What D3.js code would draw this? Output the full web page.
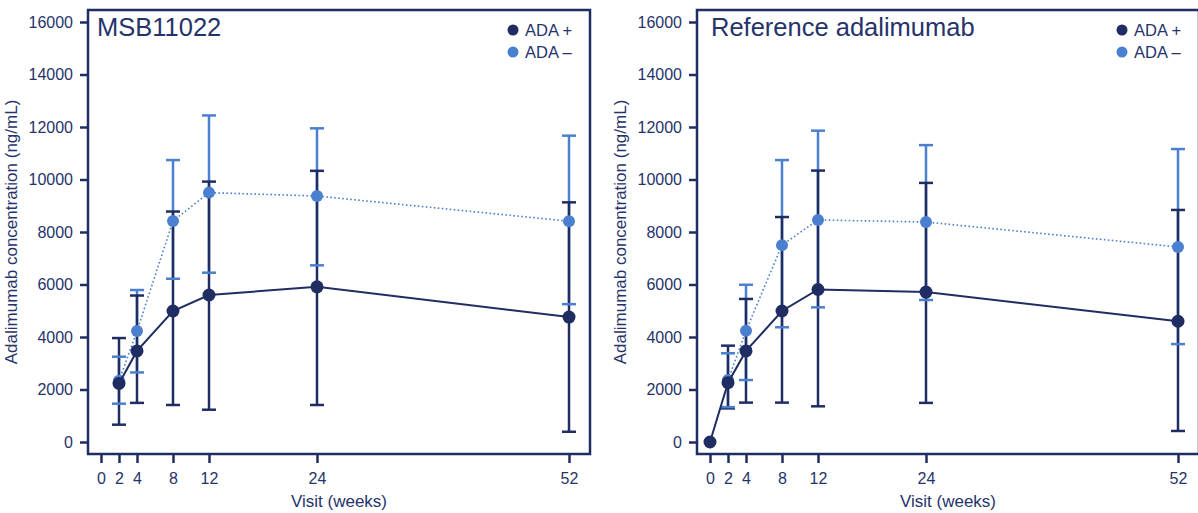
<html>
<head>
  <script src="https://d3js.org/d3.v7.min.js"></script>
  <style>
    body { margin: 0; background: white; }
    text { font-family: "Liberation Sans", Arial, sans-serif; fill: #26336a; }
  </style>
</head>
<body>
  <svg id="chart" width="1198" height="513"></svg>
  <script>
    // weeks on the x axis
    const xTicks = [0, 2, 4, 8, 12, 24, 52];
    const yTicks = [0, 2000, 4000, 6000, 8000, 10000, 12000, 14000, 16000];

    // MSB11022 panel
    const msbWeeks = [2, 4, 8, 12, 24, 52];
    const msbPosMean = [2230, 3470, 4990, 5600, 5910, 4760];
    const msbPosLow = [660, 1490, 1410, 1230, 1410, 390];
    const msbPosHigh = [3960, 5580, 8780, 9920, 10330, 9130];
    const msbNegMean = [2330, 4230, 8420, 9500, 9370, 8410];
    const msbNegLow = [1460, 2650, 6220, 6450, 6730, 5250];
    const msbNegHigh = [3250, 5790, 10740, 12440, 11950, 11670];

    // Reference adalimumab panel
    const refPosWeeks = [0, 2, 4, 8, 12, 24, 52];
    const refPosMean = [0, 2260, 3470, 4990, 5810, 5710, 4600];
    const refPosLow = [null, 1280, 1500, 1500, 1360, 1490, 420];
    const refPosHigh = [null, 3670, 5450, 8570, 10340, 9870, 8840];
    const refNegWeeks = [2, 4, 8, 12, 24, 52];
    const refNegMean = [2360, 4240, 7500, 8460, 8380, 7430];
    const refNegLow = [1330, 2360, 4370, 5130, 5410, 3730];
    const refNegHigh = [3380, 5990, 10740, 11860, 11310, 11160];

    const dark = "#1f2d63";
    const light = "#4a80cf";

    const svg = d3.select("#chart");
    const w = 502, h = 444;

    function series(weeks, mean, low, high) {
      return weeks.map((wk, i) => ({ week: wk, mean: mean[i], low: low[i], high: high[i] }));
    }

    function drawPanel(left, title, titleX, pos, neg) {
      const g = svg.append("g").attr("transform", `translate(${left},10)`);
      const x = d3.scaleLinear().domain([-13 / 9, 489 / 9]).range([0, w]);
      const y = d3.scaleLinear().domain([-457, 16457]).range([h, 0]);

      // axes
      const yAxis = g.append("g")
        .call(d3.axisLeft(y).tickValues(yTicks).tickSize(8).tickPadding(7).tickFormat(d3.format("d")));
      const xAxis = g.append("g").attr("transform", `translate(0,${h})`)
        .call(d3.axisBottom(x).tickValues(xTicks).tickSize(9).tickPadding(10));
      [yAxis, xAxis].forEach(a => {
        a.select(".domain").remove();
        a.selectAll("line").attr("stroke", dark).attr("stroke-width", 2.5);
        a.selectAll("text").style("font-size", "16px").attr("fill", "#26336a");
      });

      g.append("rect").attr("width", w).attr("height", h)
        .attr("fill", "none").attr("stroke", dark).attr("stroke-width", 2.5);

      g.append("text").attr("x", titleX).attr("y", 26)
        .style("font-size", "25.5px").text(title);

      g.append("text")
        .attr("transform", `translate(-71,${h / 2}) rotate(-90)`)
        .attr("text-anchor", "middle").style("font-size", "17px")
        .text("Adalimumab concentration (ng/mL)");

      g.append("text").attr("x", w / 2).attr("y", 497)
        .attr("text-anchor", "middle").style("font-size", "17px")
        .text("Visit (weeks)");

      // error bars: stems first, then caps
      const bars = [[neg, light], [pos, dark]];
      bars.forEach(([data, col]) => {
        g.selectAll(null).data(data.filter(d => d.low != null)).enter().append("line")
          .attr("x1", d => x(d.week)).attr("x2", d => x(d.week))
          .attr("y1", d => y(d.low)).attr("y2", d => y(d.high))
          .attr("stroke", col).attr("stroke-width", 2.5);
      });
      [[pos, dark], [neg, light]].forEach(([data, col]) => {
        const eb = data.filter(d => d.low != null);
        ["low", "high"].forEach(k => {
          g.selectAll(null).data(eb).enter().append("line")
            .attr("x1", d => x(d.week) - 7).attr("x2", d => x(d.week) + 7)
            .attr("y1", d => y(d[k])).attr("y2", d => y(d[k]))
            .attr("stroke", col).attr("stroke-width", 2.5);
        });
      });

      const line = d3.line().x(d => x(d.week)).y(d => y(d.mean));

      g.append("path").datum(neg).attr("d", line)
        .attr("fill", "none").attr("stroke", light).attr("stroke-width", 1.6)
        .attr("stroke-dasharray", "1.6,2.4");
      g.selectAll(null).data(neg).enter().append("circle")
        .attr("cx", d => x(d.week)).attr("cy", d => y(d.mean)).attr("r", 6)
        .attr("fill", light);

      g.append("path").datum(pos).attr("d", line)
        .attr("fill", "none").attr("stroke", dark).attr("stroke-width", 2);
      g.selectAll(null).data(pos).enter().append("circle")
        .attr("cx", d => x(d.week)).attr("cy", d => y(d.mean)).attr("r", 6.5)
        .attr("fill", dark);

      // legend
      const lg = g.append("g").attr("transform", "translate(425,20)");
      [["ADA +", dark], ["ADA \u2013", light]].forEach(([lab, col], i) => {
        lg.append("circle").attr("cx", 0).attr("cy", i * 22).attr("r", 5.5).attr("fill", col);
        lg.append("text").attr("x", 12).attr("y", i * 22 + 6)
          .style("font-size", "16.5px").text(lab);
      });
    }

    drawPanel(88, "MSB11022", 9,
      series(msbWeeks, msbPosMean, msbPosLow, msbPosHigh),
      series(msbWeeks, msbNegMean, msbNegLow, msbNegHigh));
    drawPanel(697, "Reference adalimumab", 14,
      series(refPosWeeks, refPosMean, refPosLow, refPosHigh),
      series(refNegWeeks, refNegMean, refNegLow, refNegHigh));
  </script>
</body>
</html>
